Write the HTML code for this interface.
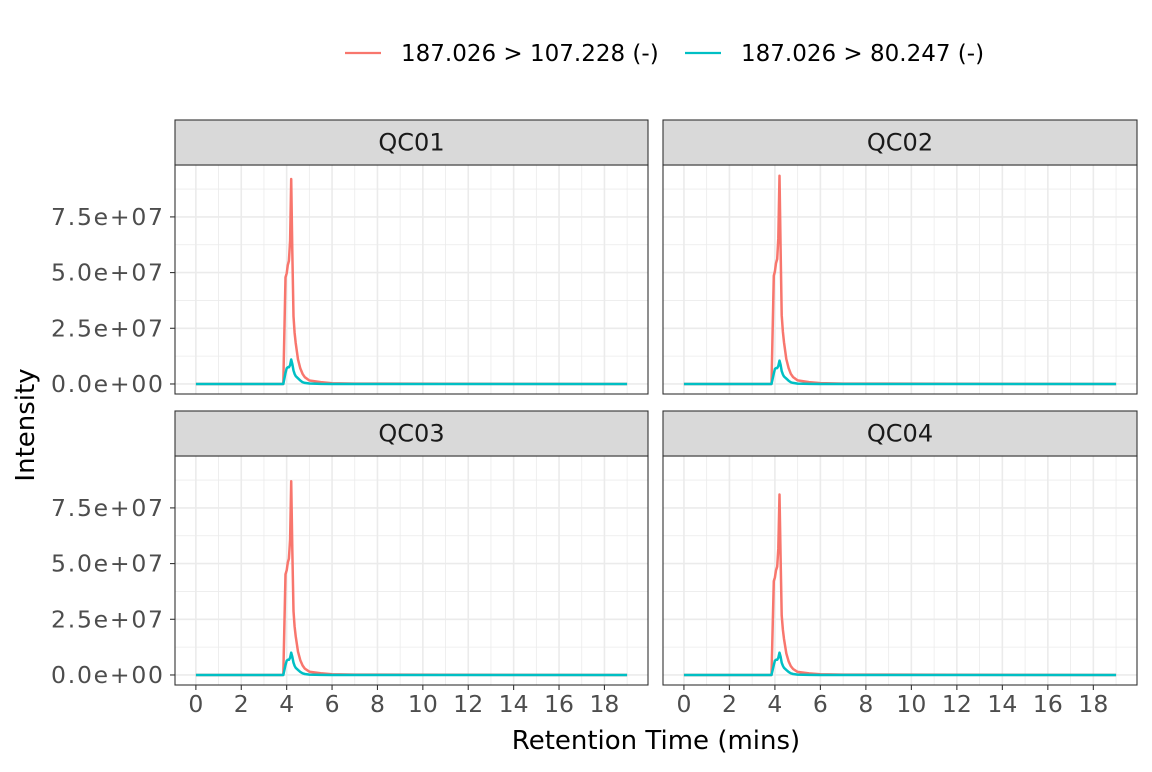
<!DOCTYPE html>
<html><head><meta charset="utf-8"><style>
body{margin:0;background:#fff;font-family:"DejaVu Sans","Liberation Sans",sans-serif}
svg text{font-family:"DejaVu Sans","Liberation Sans",sans-serif}
</style></head><body>
<svg id="c" width="1152" height="768" xmlns="http://www.w3.org/2000/svg"></svg>
<script>
const panels = ["QC01","QC02","QC03","QC04"];
const times = [0,3.85,3.95,4.0,4.05,4.1,4.15,4.2,4.25,4.3,4.35,4.4,4.5,4.6,4.7,4.8,5.0,5.5,6,7,19];
const redShape = [0,0,0.52,0.54,0.58,0.6,0.7,1,0.65,0.33,0.25,0.2,0.12,0.076,0.049,0.033,0.017,0.009,0.004,0.002,0];
const blueShape = [0,0,0.45,0.64,0.68,0.68,0.77,1,0.82,0.55,0.41,0.32,0.23,0.14,0.073,0.045,0.018,0.005,0,0,0];
const redPeaks = [9.2e7,9.35e7,8.7e7,8.1e7];
const bluePeaks = [1.1e7,1.05e7,1.0e7,1.0e7];
const xTicks = [0,2,4,6,8,10,12,14,16,18];
const yTicks = [0,2.5e7,5e7,7.5e7];
const yLabels = ["0.0e+00","2.5e+07","5.0e+07","7.5e+07"];
const seriesNames = ["187.026 > 107.228 (-)","187.026 > 80.247 (-)"];
const colors = ["#F8766D","#00BFC4"];

const svg = document.getElementById('c');
const NS = "http://www.w3.org/2000/svg";
function mk(tag, attrs, parent){const e=document.createElementNS(NS,tag);for(const k in attrs)e.setAttribute(k,attrs[k]);(parent||svg).appendChild(e);return e;}

const boxes = [
 {x0:175,x1:648,sy:120,y0:165,y1:394},
 {x0:663,x1:1137,sy:120,y0:165,y1:394},
 {x0:175,x1:648,sy:411,y0:456,y1:685},
 {x0:663,x1:1137,sy:411,y0:456,y1:685}];
const xmin=-0.92,xmax=19.92,ymin=-0.45e7,ymax=9.83e7;

panels.forEach((p,i)=>{
 const b=boxes[i];
 const g=mk('g',{});
 
 
 const sx=v=>b.x0+(v-xmin)/(xmax-xmin)*(b.x1-b.x0);
 const sy=v=>b.y1-(v-ymin)/(ymax-ymin)*(b.y1-b.y0);
 for(let v=1;v<=19;v+=2){mk('line',{x1:sx(v),x2:sx(v),y1:b.y0,y2:b.y1,stroke:'#ebebeb','stroke-width':0.8},g);}
 for(let v=-1.25e7;v<=1e8;v+=2.5e7){if(v<ymin)continue;mk('line',{x1:b.x0,x2:b.x1,y1:sy(v),y2:sy(v),stroke:'#ebebeb','stroke-width':0.8},g);}
 xTicks.forEach(v=>mk('line',{x1:sx(v),x2:sx(v),y1:b.y0,y2:b.y1,stroke:'#ebebeb','stroke-width':1.6},g));
 yTicks.forEach(v=>mk('line',{x1:b.x0,x2:b.x1,y1:sy(v),y2:sy(v),stroke:'#ebebeb','stroke-width':1.6},g));
 [[redShape,redPeaks[i],0],[blueShape,bluePeaks[i],1]].forEach(([sh,pk,k])=>{
  const d=times.map((t,j)=>(j?'L':'M')+sx(t).toFixed(1)+','+sy(sh[j]*pk).toFixed(1)).join('');
  const pth=mk('path',{d:d,fill:'none',stroke:colors[k],'stroke-width':2.5,'stroke-linejoin':'round'},g);
  
  
 });
 mk('rect',{x:b.x0,y:b.y0,width:b.x1-b.x0,height:b.y1-b.y0,fill:'none',stroke:'#333','stroke-width':1.1},g);
 const st=mk('rect',{x:b.x0,y:b.sy,width:b.x1-b.x0,height:b.y0-b.sy,fill:'#d9d9d9',stroke:'#333','stroke-width':1.1},g);
 
 
 const tt=mk('text',{x:(b.x0+b.x1)/2,y:(b.sy+b.y0)/2+8,'text-anchor':'middle','font-size':24,fill:'#1a1a1a'},g);
 tt.textContent=p;
 
 
 if(i%2===0){yTicks.forEach((v,j)=>{
  mk('line',{x1:b.x0-5,x2:b.x0,y1:sy(v),y2:sy(v),stroke:'#333','stroke-width':1.1},g);
  const t=mk('text',{x:b.x0-12,y:sy(v)+8,'text-anchor':'end','font-size':23.5,fill:'#4d4d4d',textLength:112,lengthAdjust:'spacing'},g);
  t.textContent=yLabels[j];
  
  
 });}
 if(i>=2){xTicks.forEach(v=>{
  mk('line',{x1:sx(v),x2:sx(v),y1:b.y1,y2:b.y1+5,stroke:'#333','stroke-width':1.1},g);
  const t=mk('text',{x:sx(v),y:b.y1+27,'text-anchor':'middle','font-size':23.5,fill:'#4d4d4d'},g);
  t.textContent=v;
  
  
 });}
});
const xt=mk('text',{x:656,y:749,'text-anchor':'middle','font-size':26,fill:'#000'});
xt.textContent='Retention Time (mins)';


const yt=mk('text',{x:34,y:425,'text-anchor':'middle','font-size':26,fill:'#000',transform:'rotate(-90 34 425)'});
yt.textContent='Intensity';


const legX=[345,685];
seriesNames.forEach((n,k)=>{
 const g=mk('g',{});
 
 
 mk('line',{x1:legX[k],x2:legX[k]+36,y1:53,y2:53,stroke:colors[k],'stroke-width':2.2},g);
 const t=mk('text',{x:legX[k]+56,y:61,'font-size':23,fill:'#000'},g);
 t.textContent=n;
});
</script>
</body></html>
